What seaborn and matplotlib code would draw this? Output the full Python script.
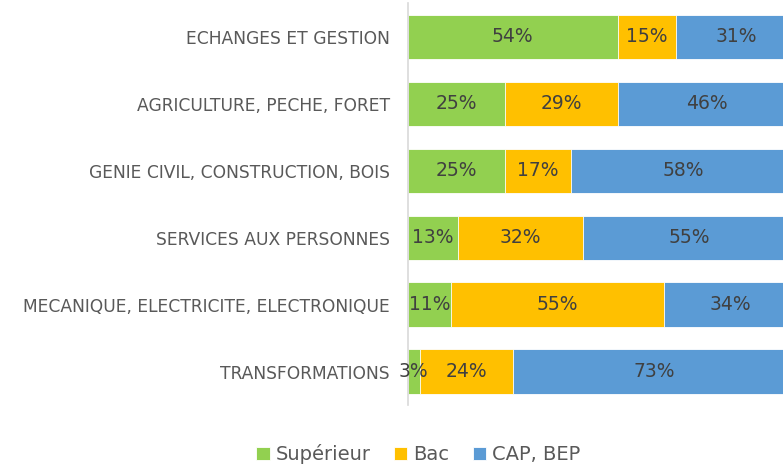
import numpy as np
import pandas as pd
import matplotlib
matplotlib.use("Agg")
import matplotlib.pyplot as plt
import seaborn as sns

# data (percent)
categories = ["ECHANGES ET GESTION", "AGRICULTURE, PECHE, FORET",
              "GENIE CIVIL, CONSTRUCTION, BOIS", "SERVICES AUX PERSONNES",
              "MECANIQUE, ELECTRICITE, ELECTRONIQUE", "TRANSFORMATIONS"]
superieur = [54, 25, 25, 13, 11, 3]
bac = [15, 29, 17, 32, 55, 24]
cap_bep = [31, 46, 58, 55, 34, 73]
series_names = ["Supérieur", "Bac", "CAP, BEP"]
colors = ["#92D050", "#FFC000", "#5B9BD5"]

sns.set_theme(style="white")
plt.rcParams["font.family"] = ["DejaVu Sans"]

df = pd.DataFrame({"cat": categories, "Supérieur": superieur,
                   "Bac": bac, "CAP, BEP": cap_bep})
# cumulative sums so the stacked bars can be drawn back to front
df["cum1"] = df["Supérieur"]
df["cum2"] = df["cum1"] + df["Bac"]
df["cum3"] = df["cum2"] + df["CAP, BEP"]

fig = plt.figure(figsize=(7.83, 4.66), dpi=100)
ax = fig.add_axes([0.521, 0.13, 0.496, 0.8625])

for col, name, color in zip(["cum3", "cum2", "cum1"], series_names[::-1], colors[::-1]):
    sns.barplot(data=df, x=col, y="cat", color=color, width=0.67,
                saturation=1, ax=ax, label=name, edgecolor="white", linewidth=0.6)

# value labels in the middle of each segment
for i in range(len(categories)):
    starts = [0, df["cum1"][i], df["cum2"][i]]
    vals = [superieur[i], bac[i], cap_bep[i]]
    for s, v in zip(starts, vals):
        ax.text(s + v / 2, i, f"{v}%", ha="center", va="center",
                fontsize=13.5, color="#404040")

ax.set_xlim(0, 100)
ax.set_ylim(5.5, -0.5)
ax.set_xlabel("")
ax.set_ylabel("")
ax.set_xticks([])
ax.tick_params(axis="y", length=0, pad=13, labelsize=12.3, labelcolor="#595959")
for side in ["top", "right", "bottom"]:
    ax.spines[side].set_visible(False)
ax.spines["left"].set_color("#D9D9D9")
ax.spines["left"].set_linewidth(1.2)

handles, labels = ax.get_legend_handles_labels()
order = [labels.index(n) for n in series_names]
ax.legend([handles[k] for k in order], series_names, loc="center",
          bbox_to_anchor=(0.534, 0.025), bbox_transform=fig.transFigure,
          ncol=3, frameon=False, fontsize=14, handlelength=0.7, handleheight=0.7,
          handletextpad=0.3, columnspacing=1.2, labelcolor="#595959")

fig.savefig("out.png", dpi=100)
